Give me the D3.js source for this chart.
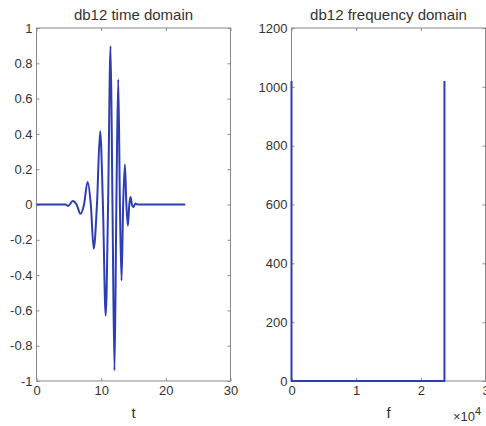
<!DOCTYPE html>
<html>
<head>
<meta charset="utf-8">
<script src="https://cdn.jsdelivr.net/npm/d3@7"></script>
<style>
  body { margin: 0; background: #fff; }
  text { font-family: "Liberation Sans", Arial, sans-serif; fill: #333; }
</style>
</head>
<body>
<div id="viz"></div>
<script>
// data
// db12 wavelet: extrema and zero crossings
const waveT = [0, 4.5, 4.9, 5.6, 6.2, 6.8, 7.35, 7.9, 8.4, 8.85, 9.35, 9.84, 10.27, 10.7, 11.07,
    11.45, 11.75, 12.06, 12.35, 12.64, 12.9, 13.15, 13.4, 13.67, 13.9, 14.13, 14.35, 14.55,
    14.75, 14.97, 15.3, 15.6, 23];
const waveV = [0, 0, -0.008, 0.02, 0, -0.053, 0, 0.128, 0, -0.25, 0, 0.415, 0, -0.63, 0,
    0.897, 0, -0.94, 0, 0.708, 0, -0.43, 0, 0.227, 0, -0.12, 0, 0.043,
    0, -0.015, 0.006, 0, 0];

// frequency domain magnitude
const freqF = [0, 0, 23650, 23650];
const freqM = [1020, 0, 0, 1020];

const timeTicksX = [0, 10, 20, 30],
    timeTicksY = [-1, -0.8, -0.6, -0.4, -0.2, 0, 0.2, 0.4, 0.6, 0.8, 1],
    freqTicksX = [0, 10000, 20000, 30000],
    freqTicksY = [0, 200, 400, 600, 800, 1000, 1200];

const outerWidth = 486, outerHeight = 426;
const plotTop = 28, plotBottom = 381;
const lineColor = "#2d3db2", frameColor = "#8a8a8a";

window.onload = function main () {

const svg = d3.select("#viz").append("svg")
    .attr("width", outerWidth)
    .attr("height", outerHeight);

const plain = d => String(+d.toFixed(4)); // matlab-ish labels: 1, 0.8, -0.2, 1200

function panel(opt) {
    const g = svg.append("g");
    const x = d3.scaleLinear().domain(opt.xDomain).range([opt.left, opt.right]);
    const y = d3.scaleLinear().domain(opt.yDomain).range([plotBottom, plotTop]);

    // frame
    g.append("rect")
        .attr("x", opt.left).attr("y", plotTop)
        .attr("width", opt.right - opt.left).attr("height", plotBottom - plotTop)
        .attr("fill", "none").attr("stroke", frameColor).attr("stroke-width", 1);

    const inner = a => a.tickSizeInner(-3).tickSizeOuter(0);

    g.append("g").attr("transform", "translate(0," + plotBottom + ")")
        .call(inner(d3.axisBottom(x).tickValues(opt.xTicks).tickFormat(opt.xFormat)).tickPadding(5));
    g.append("g").attr("transform", "translate(0," + plotTop + ")")
        .call(inner(d3.axisTop(x).tickValues(opt.xTicks).tickFormat("")));
    g.append("g").attr("transform", "translate(" + opt.left + ",0)")
        .call(inner(d3.axisLeft(y).tickValues(opt.yTicks).tickFormat(plain)).tickPadding(4));
    g.append("g").attr("transform", "translate(" + opt.right + ",0)")
        .call(inner(d3.axisRight(y).tickValues(opt.yTicks).tickFormat("")));

    g.selectAll(".domain").remove();
    g.selectAll(".tick line").attr("stroke", frameColor);
    g.selectAll(".tick text").attr("font-size", 13).attr("fill", "#333")
        .attr("font-family", "Liberation Sans, Arial, sans-serif");

    // series
    g.append("path")
        .datum(d3.zip(opt.xs, opt.ys))
        .attr("fill", "none")
        .attr("stroke", lineColor)
        .attr("stroke-width", 2)
        .attr("stroke-linejoin", "round")
        .attr("d", d3.line().x(d => x(d[0])).y(d => y(d[1])).curve(opt.curve));

    // title and label
    const cx = (opt.left + opt.right) / 2;
    g.append("text").attr("x", cx).attr("y", 20)
        .attr("text-anchor", "middle").attr("font-size", 15).attr("fill", "#222")
        .text(opt.title);
    g.append("text").attr("x", cx).attr("y", 418)
        .attr("text-anchor", "middle").attr("font-size", 15).attr("fill", "#333")
        .text(opt.xLabel);
    return {x, y, g};
}

panel({
    left: 36.5, right: 230.5,
    xDomain: [0, 30], yDomain: [-1, 1],
    xTicks: timeTicksX, yTicks: timeTicksY,
    xFormat: plain,
    xs: waveT, ys: waveV,
    curve: d3.curveMonotoneX,
    title: "db12 time domain", xLabel: "t"
});

const right = panel({
    left: 291.5, right: 485.5,
    xDomain: [0, 30000], yDomain: [0, 1200],
    xTicks: freqTicksX, yTicks: freqTicksY,
    xFormat: d => plain(d / 10000),
    xs: freqF, ys: freqM,
    curve: d3.curveLinear,
    title: "db12 frequency domain", xLabel: "f"
});

// x10^4 exponent label
const exp = right.g.append("text").attr("x", 453).attr("y", 421).attr("font-size", 13).attr("fill", "#333");
exp.append("tspan").text("\u00d710");
exp.append("tspan").attr("dy", -6).attr("font-size", 11).text("4");

};
</script>
</body>
</html>
